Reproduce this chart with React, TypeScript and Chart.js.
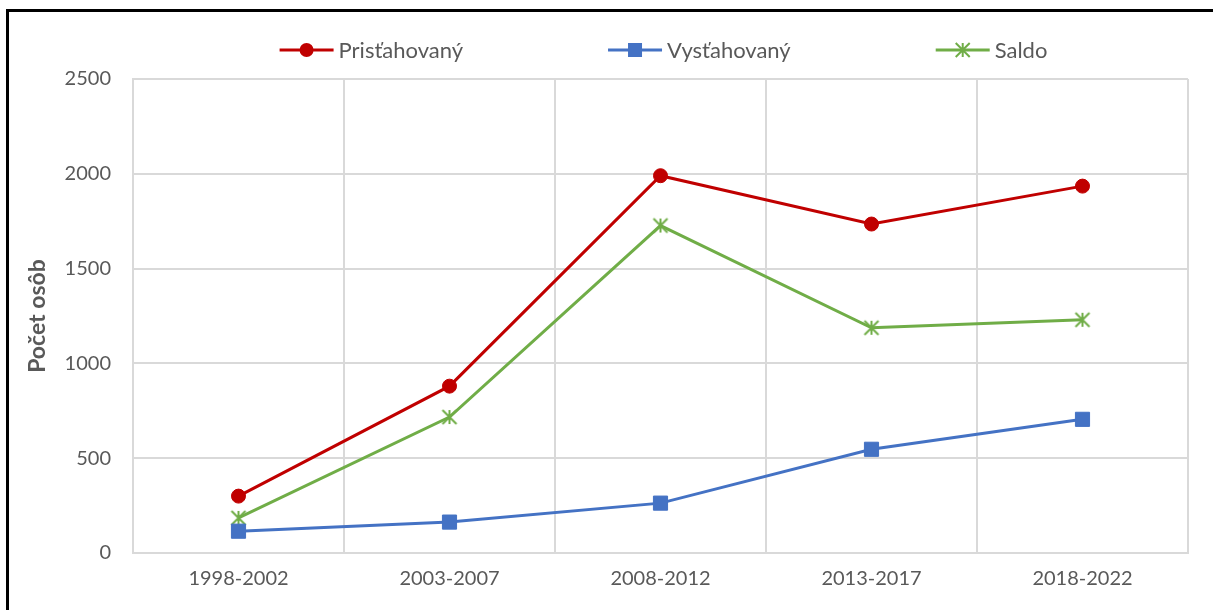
import React, { useEffect, useRef } from "react";
import { Chart, registerables } from "chart.js";

Chart.register(...registerables);

const categories = ["1998-2002", "2003-2007", "2008-2012", "2013-2017", "2018-2022"];
const pristahovany = [300, 880, 1990, 1735, 1935];
const vystahovany = [115, 163, 263, 547, 705];
const saldo = [185, 717, 1727, 1188, 1230];
const seriesNames = ["Prisťahovaný", "Vysťahovaný", "Saldo"];
const seriesColors = ["#C00000", "#4472C4", "#70AD47"];
const seriesMarkers = ["circle", "rect", "asterisk"];
const yAxisTitle = "Počet osôb";
const yMin = 0;
const yMax = 2500;
const yStep = 500;

const FONT = "Lato, 'Open Sans', sans-serif";
const TEXT_COLOR = "#595959";
const GRID_COLOR = "#d9d9d9";

function strokeAsterisk(ctx: CanvasRenderingContext2D, x: number, y: number, r: number, color: string) {
  ctx.save();
  ctx.strokeStyle = color;
  ctx.lineWidth = 2;
  ctx.beginPath();
  ctx.moveTo(x - r, y - r);
  ctx.lineTo(x + r, y + r);
  ctx.moveTo(x - r, y + r);
  ctx.lineTo(x + r, y - r);
  ctx.moveTo(x, y - r);
  ctx.lineTo(x, y + r);
  ctx.stroke();
  ctx.restore();
}

function makeAsteriskImage(color: string): HTMLCanvasElement {
  const c = document.createElement("canvas");
  c.width = 18;
  c.height = 18;
  const ctx = c.getContext("2d")!;
  strokeAsterisk(ctx, 9, 9, 7, color);
  return c;
}

function drawMarker(ctx: CanvasRenderingContext2D, style: string, x: number, y: number, color: string) {
  ctx.save();
  ctx.fillStyle = color;
  if (style === "circle") {
    ctx.beginPath();
    ctx.arc(x, y, 7, 0, Math.PI * 2);
    ctx.fill();
  } else if (style === "rect") {
    ctx.fillRect(x - 7, y - 7, 14, 14);
  } else {
    strokeAsterisk(ctx, x, y, 7, color);
  }
  ctx.restore();
}

const legendPlugin = {
  id: "customLegend",
  afterDraw(chart: any) {
    const ctx: CanvasRenderingContext2D = chart.ctx;
    ctx.save();
    ctx.font = `22px ${FONT}`;
    const lineLen = 54;
    const gapText = 5;
    const gapItem = 145;
    const items = chart.data.datasets.map((ds: any, i: number) => ({
      label: ds.label as string,
      color: ds.borderColor as string,
      marker: seriesMarkers[i],
      tw: ctx.measureText(ds.label).width,
    }));
    const total =
      items.reduce((s: number, it: any) => s + lineLen + gapText + it.tw, 0) + gapItem * (items.length - 1);
    let x = (chart.chartArea.left + chart.chartArea.right) / 2 - total / 2 + 3;
    const y = 38;
    ctx.textBaseline = "middle";
    ctx.textAlign = "left";
    for (const it of items) {
      ctx.strokeStyle = it.color;
      ctx.lineWidth = 3;
      ctx.beginPath();
      ctx.moveTo(x, y);
      ctx.lineTo(x + lineLen, y);
      ctx.stroke();
      drawMarker(ctx, it.marker, x + lineLen / 2, y, it.color);
      ctx.fillStyle = TEXT_COLOR;
      ctx.fillText(it.label, x + lineLen + gapText, y + 1);
      x += lineLen + gapText + it.tw + gapItem;
    }
    ctx.restore();
  },
};

function LineChart() {
  const canvasRef = useRef<HTMLCanvasElement | null>(null);

  useEffect(() => {
    if (!canvasRef.current) return;
    const values = [pristahovany, vystahovany, saldo];
    const chart = new Chart(canvasRef.current, {
      type: "line",
      data: {
        labels: categories,
        datasets: values.map((v, i) => {
          const m = seriesMarkers[i];
          return {
            label: seriesNames[i],
            data: v,
            borderColor: seriesColors[i],
            backgroundColor: seriesColors[i],
            borderWidth: 3,
            pointStyle: (m === "asterisk" ? makeAsteriskImage(seriesColors[i]) : m) as any,
            pointRadius: m === "rect" ? 10 : 7,
            pointBorderWidth: 1,
            pointHoverRadius: 7,
            tension: 0,
            fill: false,
          };
        }),
      },
      options: {
        animation: false,
        responsive: false,
        maintainAspectRatio: false,
        layout: { padding: { top: 67, right: 25, left: 0, bottom: 0 } },
        plugins: {
          legend: { display: false },
          tooltip: { enabled: false },
        },
        scales: {
          x: {
            type: "category",
            offset: true,
            grid: { offset: true, color: GRID_COLOR, lineWidth: 2, drawTicks: false },
            border: { color: GRID_COLOR, width: 2 },
            ticks: { color: TEXT_COLOR, font: { family: FONT, size: 20 }, padding: 14 },
            afterFit: (s: any) => {
              s.height = 57;
            },
          },
          y: {
            min: yMin,
            max: yMax,
            grid: { color: GRID_COLOR, lineWidth: 2, drawTicks: false },
            border: { color: GRID_COLOR, width: 2 },
            ticks: {
              stepSize: yStep,
              color: TEXT_COLOR,
              font: { family: FONT, size: 20 },
              padding: 22,
              callback: (v: any) => String(v),
            },
            title: {
              display: true,
              text: yAxisTitle,
              color: TEXT_COLOR,
              font: { family: FONT, size: 23, weight: "bold" },
              padding: { top: 15, bottom: 0 },
            },
            afterFit: (s: any) => {
              s.width = 124;
            },
          },
        },
      },
      plugins: [legendPlugin],
    } as any);
    return () => chart.destroy();
  }, []);

  return <canvas ref={canvasRef} width={1204} height={598} style={{ width: 1204, height: 598, display: "block" }} />;
}

export default function App() {
  return (
    <div
      style={{
        position: "fixed",
        left: 0,
        top: 0,
        width: 1213,
        height: 610,
        overflow: "hidden",
        background: "#ffffff",
      }}
    >
      <div
        style={{
          position: "absolute",
          left: 6,
          top: 9,
          width: 1300,
          height: 700,
          border: "3px solid #000000",
          boxSizing: "border-box",
          background: "#ffffff",
        }}
      >
        <div style={{ position: "absolute", left: 0, top: 0 }}>
          <LineChart />
        </div>
      </div>
    </div>
  );
}
